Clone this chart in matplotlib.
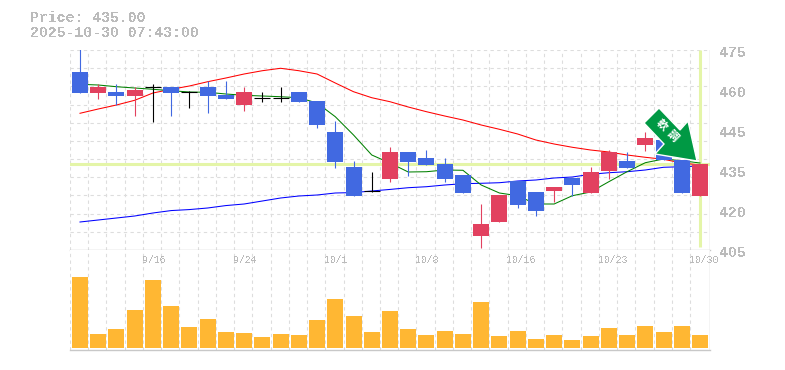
# %%
# Candlestick chart with moving averages and a volume panel
import numpy as np
from matplotlib import pyplot as plt
from matplotlib.patches import Polygon

# %%
price_top = [467.3, 462.0, 460.3, 461.0, 462.0, 462.05, 460.3, 462.05, 459.25, 460.3, 458.1, 458.1,
             460.3, 457.15, 446.3, 434.05, 425.75, 439.3, 439.3, 437.2, 435.1, 431.25, 414.1, 424.25,
             429.15, 425.3, 427.05, 430.2, 432.3, 439.3, 436.15, 444.2, 443.5, 436.5, 435.0]
price_bottom = [460.05, 460.05, 458.9, 458.9, 462.0, 460.05, 460.3, 458.9, 457.85, 455.75, 458.1, 458.1,
                456.8, 448.75, 435.8, 423.9, 425.75, 429.85, 435.8, 434.75, 429.85, 424.95, 409.9, 414.8,
                420.75, 418.65, 425.65, 427.75, 424.95, 432.65, 433.7, 441.75, 436.5, 424.95, 423.9]
highs = [478.0, 463.0, 463.0, 461.95, 463.0, 462.05, 460.65, 464.15, 464.15, 462.05, 460.3, 462.05,
         460.3, 457.15, 450.15, 436.15, 432.3, 441.05, 439.3, 440.0, 437.2, 431.25, 421.1, 424.25,
         429.15, 425.3, 427.05, 430.2, 434.05, 440.0, 439.3, 446.3, 443.5, 436.5, 435.0]
lows = [460.05, 458.0, 455.75, 451.9, 449.8, 451.9, 454.7, 452.95, 457.85, 453.65, 456.8, 456.8,
        456.8, 447.7, 433.7, 423.9, 425.45, 428.8, 430.9, 434.75, 428.8, 424.95, 405.7, 414.8,
        419.7, 416.9, 421.8, 423.9, 424.95, 429.85, 433.7, 439.65, 436.5, 424.95, 423.9]
# r = close above open, b = close below open, k = no body
kinds = list("brbrkbkbbrkkbbbbkrbbbbrrbbrbrrbrbbr")

ma_green = [463, 462.75, 462.15, 461.7, 461.25, 460.75, 460.3, 460.2, 459.6, 459.15, 458.9, 458.65,
            458.3, 456.45, 451.65, 445.25, 438.25, 435.45, 432.3, 432.4, 433, 432.9, 427.75, 424.95,
            424, 421.1, 421.1, 424, 425.3, 428.9, 432.4, 435.55, 436.85, 436.25, 435.45]
ma_red = [452.85, 454.35, 455.75, 457.4, 459.95, 461.25, 462.4, 463.9, 465.2, 466.6, 467.75, 468.6,
          467.75, 466.6, 463.45, 460.4, 458.3, 456.9, 455.05, 453.4, 451.9, 450.5, 448.75, 447.25,
          445.6, 443.5, 442.1, 440.95, 440, 439.3, 438.25, 437.45, 436.75, 435.45, 434.75]
ma_blue = [414.8, 415.5, 416.2, 416.9, 417.95, 418.8, 419.15, 419.7, 420.55, 421.1, 422.15, 423.2,
           423.9, 424.25, 424.95, 425.1, 425.65, 426.2, 426.8, 427.15, 427.75, 428.2, 428.35, 428.55,
           429.15, 429.5, 430.2, 430.55, 431.5, 432.05, 432.4, 433, 433.95, 434.15, 434.4]
volume = [71, 14, 19, 38, 68, 42, 21, 29, 16, 15, 11, 14, 13, 28, 49, 32, 16, 37,
          19, 13, 17, 14, 46, 12, 17, 9, 13, 8, 12, 20, 13, 22, 16, 22, 13]

date_labels = ["9/16", "9/24", "10/1", "10/8", "10/16", "10/23", "10/30"]
date_index = [4, 9, 14, 19, 24, 29, 34]
price_labels = ["475", "460", "445", "435", "420", "405"]
last_price = 435

# %%
W, H = 785, 370
GRID = "#dddddd"
AXIS = "#c8c8c8"
TEXT = "#bbbbbb"
LIGHT = "#e4f5a8"
colors = {"r": "#e2415f", "b": "#4169e1", "k": "#000000"}
mono = "Liberation Mono"
n = len(kinds)
xs = np.arange(n)
pad = 0.548


def px_to_fig(points):
    return [(x / W, 1 - y / H) for x, y in points]


fig = plt.figure(figsize=(W / 100, H / 100), dpi=100)
ax = fig.add_axes([70 / W, 1 - 250 / H, 640 / W, 200 / H])
ax_vol = fig.add_axes([70 / W, 1 - 350 / H, 640 / W, 100 / H])

for a in (ax, ax_vol):
    a.set_xlim(-pad, n - 1 + pad)
    for s in a.spines.values():
        s.set_visible(False)
    a.tick_params(length=0, labelleft=False, labelbottom=False)
    for v in xs - pad:
        a.axvline(v, color=GRID, lw=0.8, dashes=(3, 3), zorder=1)
    a.axvline(n - 1 + pad, color=AXIS, lw=1, zorder=2)

# %%
ax.set_ylim(405, 475)
ax.axhline(405, color=AXIS, lw=1, zorder=2, clip_on=False)
for v in np.linspace(405, 475, 12)[1:]:
    ax.axhline(v, color=GRID, lw=0.8, dashes=(3, 3), zorder=1)

ax.axhline(last_price, color=LIGHT, lw=2.2, zorder=2)
ax.plot([n - 1, n - 1], [406, 475], color=LIGHT, lw=2.2, zorder=2, solid_capstyle="butt")

ax.plot(xs, ma_red, color="#ff0000", lw=0.75, zorder=3)
ax.plot(xs, ma_blue, color="#0000ff", lw=0.75, zorder=3)
ax.plot(xs, ma_green, color="#008000", lw=0.75, zorder=3)

for i, k in enumerate(kinds):
    ax.plot([i, i], [lows[i], highs[i]], color=colors[k], lw=0.8, zorder=4, solid_capstyle="butt")
    if k == "k":
        ax.plot([i - 0.44, i + 0.44], [price_top[i], price_top[i]], color=colors[k], lw=0.8, zorder=4,
                solid_capstyle="butt")
    else:
        ax.bar(i, price_top[i] - price_bottom[i], bottom=price_bottom[i], width=0.877, color=colors[k],
               linewidth=0, zorder=5)

for v, t in zip(np.linspace(475, 405, len(price_labels)), price_labels):
    ax.annotate(t, (1, v), xycoords=("axes fraction", "data"), xytext=(10, -3), textcoords="offset pixels",
                color=TEXT, fontsize=10.7, family=mono, weight="bold", va="center", annotation_clip=False,
                antialiased=False)

# %%
# sell signal arrow
arrow_shape = [(659, 108), (680, 130), (688, 121), (697, 161), (655, 154), (664, 144), (644, 123)]
fig.add_artist(Polygon(px_to_fig(arrow_shape), closed=True, facecolor="#009944", edgecolor="white", lw=1,
                       transform=fig.transFigure, zorder=10))
fig.text(661.5 / W, 1 - 125 / H, "軟", color="white", fontsize=8, weight="bold", rotation=-45, ha="center",
         va="center", family=["Noto Sans CJK JP", "DejaVu Sans"], zorder=11)
fig.text(672.5 / W, 1 - 136 / H, "調", color="white", fontsize=8, weight="bold", rotation=-45, ha="center",
         va="center", family=["Noto Sans CJK JP", "DejaVu Sans"], zorder=11)

# %%
ax_vol.set_ylim(-2, 98)
ax_vol.axhline(-2, color=AXIS, lw=1, zorder=2, clip_on=False)
ax_vol.bar(xs, volume, width=0.877, color="#ffb733", linewidth=0, zorder=4)

for i, t in zip(date_index, date_labels):
    ax_vol.text(i - 0.6, 88, t, color=TEXT, fontsize=7.1, family=mono, ha="left", va="center", zorder=6,
                clip_on=False, antialiased=False)

# %%
fig.text(30 / W, 1 - 18 / H, "Price: 435.00", color=TEXT, fontsize=10.7, family=mono, weight="bold", va="center",
         antialiased=False)
fig.text(30 / W, 1 - 33 / H, "2025-10-30 07:43:00", color=TEXT, fontsize=10.7, family=mono, weight="bold",
         va="center", antialiased=False)

fig.savefig("out.png", dpi=100)
